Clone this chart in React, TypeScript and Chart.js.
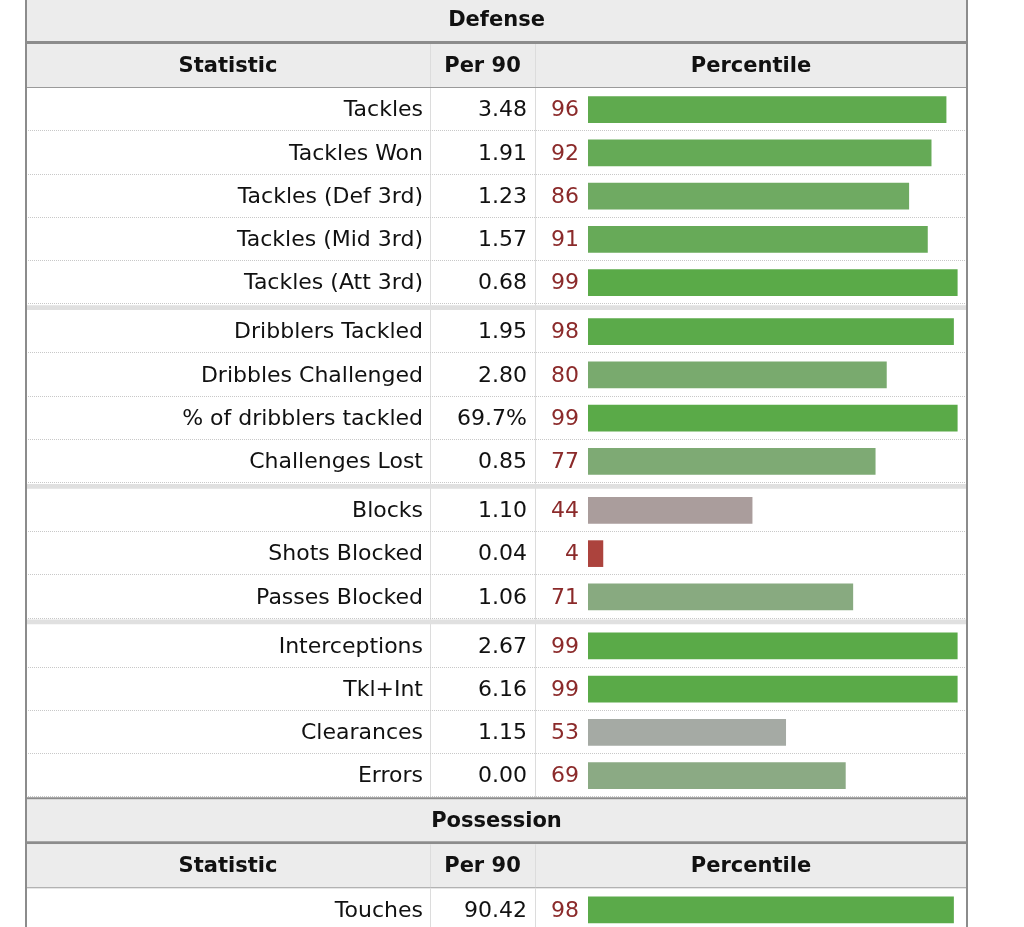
import React, { useEffect, useRef } from "react";
import { Chart, registerables } from "chart.js";

Chart.register(...registerables);

// ---- data ----
const sectionTitles = ["Defense", "Possession"];
const columnHeaders = ["Statistic", "Per 90", "Percentile"];

const defenseStats = [
  "Tackles",
  "Tackles Won",
  "Tackles (Def 3rd)",
  "Tackles (Mid 3rd)",
  "Tackles (Att 3rd)",
  "Dribblers Tackled",
  "Dribbles Challenged",
  "% of dribblers tackled",
  "Challenges Lost",
  "Blocks",
  "Shots Blocked",
  "Passes Blocked",
  "Interceptions",
  "Tkl+Int",
  "Clearances",
  "Errors",
];
const defensePer90 = [
  "3.48", "1.91", "1.23", "1.57", "0.68",
  "1.95", "2.80", "69.7%", "0.85",
  "1.10", "0.04", "1.06",
  "2.67", "6.16", "1.15", "0.00",
];
const defensePercentile = [96, 92, 86, 91, 99, 98, 80, 99, 77, 44, 4, 71, 99, 99, 53, 69];
const defenseGroupSizes = [5, 4, 3, 4];

const possessionStats = ["Touches"];
const possessionPer90 = ["90.42"];
const possessionPercentile = [98];
const possessionGroupSizes = [1];

// ---- layout / style ----
const W = 1024;
const H = 927;
const TABLE_L = 26;
const TABLE_R = 967;
const COL1 = 430;
const COL2 = 535;
const BAR_LEFT = 588;
const BAR_RIGHT = 961;
const TITLE_H = 42;
const SEC_LINE = 3;
const HEAD_H = 43;
const HEAD_LINE = 1;
const ROW_H = 43.25;
const GROUP_GAP = 5.75;
const END_LINE = 2;
const FONT = '"DejaVu Sans", Verdana, sans-serif';

function mix(a: number[], b: number[], t: number) {
  return a.map((v, i) => Math.round(v + (b[i] - v) * t));
}
function pctColor(p: number) {
  const gray = [170, 170, 170];
  const green = [88, 170, 70];
  const red = [172, 58, 52];
  const c = p >= 50 ? mix(gray, green, (p - 50) / 50) : mix(gray, red, (50 - p) / 50);
  return `rgb(${c[0]},${c[1]},${c[2]})`;
}

type Row = { label: string; per90: string; pct: number; center: number; top: number; bottom: number };
type Section = {
  title: string;
  titleTop: number;
  headTop: number;
  rowsTop: number;
  rowsBottom: number;
  groupBands: number[];
  rows: Row[];
};

function buildLayout() {
  const specs = [
    { title: sectionTitles[0], stats: defenseStats, per: defensePer90, pct: defensePercentile, groups: defenseGroupSizes },
    { title: sectionTitles[1], stats: possessionStats, per: possessionPer90, pct: possessionPercentile, groups: possessionGroupSizes },
  ];
  const sections: Section[] = [];
  let y = -1;
  specs.forEach((s, si) => {
    if (si > 0) y += END_LINE;
    const titleTop = y;
    y += TITLE_H + SEC_LINE;
    const headTop = y;
    y += HEAD_H + HEAD_LINE;
    const rowsTop = y;
    const rows: Row[] = [];
    const groupBands: number[] = [];
    let idx = 0;
    s.groups.forEach((g, gi) => {
      if (gi > 0) {
        groupBands.push(y);
        y += GROUP_GAP;
      }
      for (let k = 0; k < g; k++) {
        rows.push({ label: s.stats[idx], per90: s.per[idx], pct: s.pct[idx], top: y, bottom: y + ROW_H, center: y + ROW_H / 2 });
        y += ROW_H;
        idx++;
      }
    });
    sections.push({ title: s.title, titleTop, headTop, rowsTop, rowsBottom: y, groupBands, rows });
  });
  return sections;
}

export default function App() {
  const ref = useRef<HTMLCanvasElement | null>(null);

  useEffect(() => {
    const canvas = ref.current;
    if (!canvas) return;
    const sections = buildLayout();
    const allRows = sections.flatMap((s) => s.rows);

    const tablePlugin = {
      id: "tablePlugin",
      beforeDraw(chart: any) {
        const ctx = chart.ctx as CanvasRenderingContext2D;
        const ys = chart.scales.y;
        const py = (v: number) => ys.getPixelForValue(v);
        ctx.save();
        ctx.fillStyle = "#ffffff";
        ctx.fillRect(0, 0, W, H);
        sections.forEach((s, si) => {
          // title band
          ctx.fillStyle = "#ececec";
          ctx.fillRect(TABLE_L, py(s.titleTop), TABLE_R - TABLE_L, TITLE_H);
          ctx.fillStyle = "#8c8c8c";
          ctx.fillRect(TABLE_L, py(s.titleTop + TITLE_H), TABLE_R - TABLE_L, SEC_LINE);
          if (si > 0) {
            ctx.fillRect(TABLE_L, py(s.titleTop - END_LINE), TABLE_R - TABLE_L, END_LINE);
          }
          // header band
          ctx.fillStyle = "#ececec";
          ctx.fillRect(TABLE_L, py(s.headTop), TABLE_R - TABLE_L, HEAD_H);
          ctx.fillStyle = "#9a9a9a";
          ctx.fillRect(TABLE_L, py(s.headTop + HEAD_H), TABLE_R - TABLE_L, HEAD_LINE);
          // column lines
          ctx.fillStyle = "#dcdcdc";
          [COL1, COL2].forEach((x) => {
            ctx.fillRect(x, py(s.headTop), 1, HEAD_H);
            ctx.fillRect(x, py(s.rowsTop), 1, py(s.rowsBottom) - py(s.rowsTop));
          });
          // group bands
          s.groupBands.forEach((b) => {
            ctx.fillStyle = "#e0e0e0";
            ctx.fillRect(TABLE_L, py(b) + 1, TABLE_R - TABLE_L, GROUP_GAP - 1);
          });
          // dotted row lines
          ctx.strokeStyle = "#c8c8c8";
          ctx.lineWidth = 1;
          ctx.setLineDash([1, 1]);
          s.rows.forEach((r) => {
            const yb = Math.round(py(r.bottom)) - 0.5;
            ctx.beginPath();
            ctx.moveTo(TABLE_L, yb);
            ctx.lineTo(TABLE_R, yb);
            ctx.stroke();
          });
          ctx.setLineDash([]);
        });
        // outer borders
        ctx.fillStyle = "#8c8c8c";
        ctx.fillRect(TABLE_L - 1, 0, 2, H);
        ctx.fillRect(TABLE_R - 1, 0, 2, H);
        ctx.restore();
      },
      afterDraw(chart: any) {
        const ctx = chart.ctx as CanvasRenderingContext2D;
        const ys = chart.scales.y;
        const py = (v: number) => ys.getPixelForValue(v);
        ctx.save();
        ctx.textBaseline = "middle";
        sections.forEach((s) => {
          ctx.fillStyle = "#111";
          ctx.font = `bold 21px ${FONT}`;
          ctx.textAlign = "center";
          ctx.fillText(s.title, (TABLE_L + TABLE_R) / 2, py(s.titleTop + TITLE_H / 2) + 1);
          const hy = py(s.headTop + HEAD_H / 2) + 1;
          ctx.fillText(columnHeaders[0], (TABLE_L + COL1) / 2, hy);
          ctx.fillText(columnHeaders[1], (COL1 + COL2) / 2, hy);
          ctx.fillText(columnHeaders[2], (COL2 + TABLE_R) / 2, hy);
          ctx.font = `22px ${FONT}`;
          s.rows.forEach((r) => {
            const cy = py(r.center) + 1;
            ctx.textAlign = "right";
            ctx.fillStyle = "#111";
            ctx.fillText(r.label, COL1 - 7, cy);
            ctx.fillText(r.per90, COL2 - 8, cy);
            ctx.fillStyle = "#8b2a2a";
            ctx.fillText(String(r.pct), BAR_LEFT - 9, cy);
          });
        });
        ctx.restore();
      },
    };

    const chart = new Chart(canvas, {
      type: "bar",
      data: {
        datasets: [
          {
            data: allRows.map((r) => ({ x: r.pct, y: r.center })) as any,
            backgroundColor: allRows.map((r) => pctColor(r.pct)),
            borderWidth: 0,
            barThickness: 26,
          },
        ],
      },
      options: {
        indexAxis: "y",
        animation: false,
        responsive: false,
        layout: { padding: { left: BAR_LEFT, right: W - BAR_RIGHT, top: 0, bottom: 0 } },
        scales: {
          x: { type: "linear", min: 0, max: 100, display: false, offset: false, grid: { display: false } },
          y: { type: "linear", min: 0, max: H, reverse: true, display: false, offset: false, grid: { display: false } },
        },
        plugins: { legend: { display: false }, tooltip: { enabled: false } },
      },
      plugins: [tablePlugin],
    });
    return () => chart.destroy();
  }, []);

  return (
    <div style={{ position: "fixed", left: 0, top: 0, width: W, height: H, background: "#fff" }}>
      <canvas ref={ref} width={W} height={H} style={{ display: "block", width: W, height: H }} />
    </div>
  );
}
